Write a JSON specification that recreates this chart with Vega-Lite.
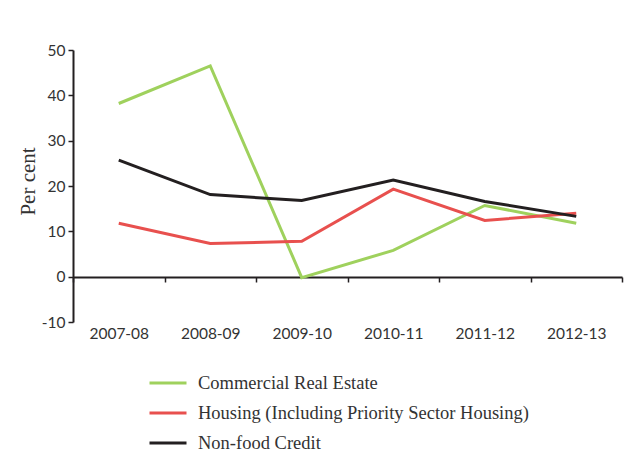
{
  "$schema": "https://vega.github.io/schema/vega-lite/v6.json",
  "autosize": {"type": "none"},
  "width": 549,
  "height": 272,
  "padding": {"left": 73, "top": 50, "right": 8, "bottom": 139},
  "background": "white",
  "config": {
    "view": {"stroke": null},
    "axis": {"grid": false, "domainColor": "#231f20", "tickColor": "#231f20", "domainWidth": 2, "tickWidth": 1.5, "labelColor": "#333333", "labelFont": "Lato", "labelFontSize": 15.5}
  },
  "data": {
    "values": [
      {"year": "2007-08", "series": "Commercial Real Estate", "value": 38.2},
      {"year": "2008-09", "series": "Commercial Real Estate", "value": 46.5},
      {"year": "2009-10", "series": "Commercial Real Estate", "value": -0.2},
      {"year": "2010-11", "series": "Commercial Real Estate", "value": 5.8},
      {"year": "2011-12", "series": "Commercial Real Estate", "value": 15.7},
      {"year": "2012-13", "series": "Commercial Real Estate", "value": 11.8},
      {"year": "2007-08", "series": "Housing (Including Priority Sector Housing)", "value": 11.8},
      {"year": "2008-09", "series": "Housing (Including Priority Sector Housing)", "value": 7.3},
      {"year": "2009-10", "series": "Housing (Including Priority Sector Housing)", "value": 7.8},
      {"year": "2010-11", "series": "Housing (Including Priority Sector Housing)", "value": 19.3},
      {"year": "2011-12", "series": "Housing (Including Priority Sector Housing)", "value": 12.4},
      {"year": "2012-13", "series": "Housing (Including Priority Sector Housing)", "value": 14.0},
      {"year": "2007-08", "series": "Non-food Credit", "value": 25.7},
      {"year": "2008-09", "series": "Non-food Credit", "value": 18.1},
      {"year": "2009-10", "series": "Non-food Credit", "value": 16.8},
      {"year": "2010-11", "series": "Non-food Credit", "value": 21.3},
      {"year": "2011-12", "series": "Non-food Credit", "value": 16.6},
      {"year": "2012-13", "series": "Non-food Credit", "value": 13.3}
    ]
  },
  "mark": {"type": "line", "strokeWidth": 3},
  "encoding": {
    "x": {
      "field": "year", "type": "ordinal", "title": null,
      "scale": {"type": "band", "paddingInner": 0, "paddingOuter": 0},
      "axis": {"offset": -45, "labelAngle": 0, "tickSize": 5, "labelPadding": 44, "tickBand": "extent"}
    },
    "y": {
      "field": "value", "type": "quantitative",
      "scale": {"domain": [-10, 50], "nice": false, "zero": false},
      "axis": {"values": [-10, 0, 10, 20, 30, 40, 50], "labelExpr": "'' + datum.value", "tickSize": 5, "labelPadding": 3, "title": "Per cent", "titleFont": "Liberation Serif", "titleFontSize": 21, "titleFontWeight": "normal", "titleColor": "#333333", "titleX": -45, "titleY": 131, "titleBaseline": "middle"}
    },
    "color": {
      "field": "series", "type": "nominal",
      "scale": {"domain": ["Commercial Real Estate", "Housing (Including Priority Sector Housing)", "Non-food Credit"], "range": ["#9fd15d", "#e8504e", "#231f20"]},
      "legend": {"title": null, "orient": "none", "legendX": 75, "legendY": 313, "symbolType": "stroke", "symbolSize": 1369, "symbolStrokeWidth": 3, "labelFont": "Liberation Serif", "labelFontSize": 18.5, "labelColor": "#333333", "labelOffset": 10, "rowPadding": -8, "labelLimit": 500}
    }
  }
}
